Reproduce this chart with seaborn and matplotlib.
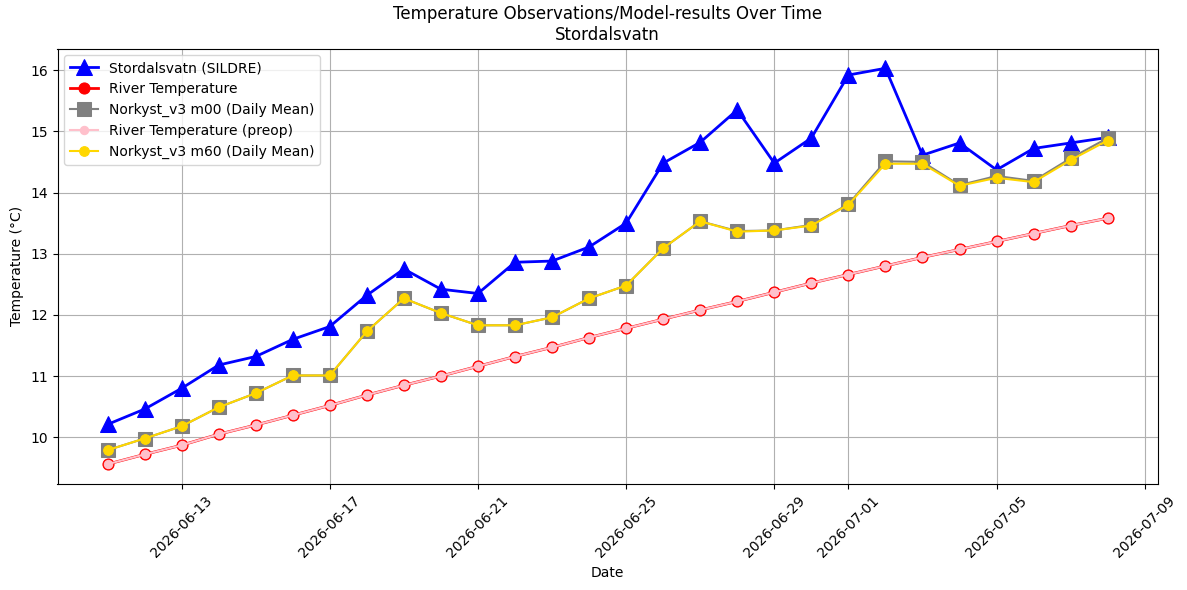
import pandas as pd
import numpy as np
import matplotlib.pyplot as plt
import seaborn as sns

# -----------------------------
# Data
# -----------------------------
dates = pd.date_range("2026-06-11", "2026-07-08", freq="D")

sildre = [10.21, 10.46, 10.80, 11.18, 11.32, 11.60, 11.81, 12.32, 12.75, 12.42,
          12.35, 12.86, 12.88, 13.11, 13.50, 14.48, 14.82, 15.35, 14.48, 14.89,
          15.92, 16.03, 14.61, 14.81, 14.37, 14.72, 14.81, 14.90]

river = [9.56, 9.72, 9.87, 10.05, 10.20, 10.36, 10.52, 10.69, 10.85, 11.00,
         11.16, 11.32, 11.47, 11.63, 11.78, 11.93, 12.08, 12.22, 12.37, 12.52,
         12.66, 12.80, 12.94, 13.07, 13.20, 13.33, 13.46, 13.58]

river_preop = list(river)

m00 = [9.79, 9.98, 10.18, 10.49, 10.72, 11.01, 11.01, 11.73, 12.27, 12.03,
       11.83, 11.83, 11.96, 12.27, 12.48, 13.09, 13.53, 13.37, 13.38, 13.47,
       13.81, 14.51, 14.50, 14.12, 14.27, 14.19, 14.56, 14.89]

m60 = [9.79, 9.98, 10.18, 10.49, 10.72, 11.01, 11.01, 11.73, 12.27, 12.03,
       11.83, 11.83, 11.96, 12.27, 12.48, 13.09, 13.53, 13.36, 13.38, 13.46,
       13.80, 14.47, 14.47, 14.11, 14.24, 14.17, 14.53, 14.85]

# -----------------------------
# Plot
# -----------------------------
fig, ax = plt.subplots(figsize=(11.87, 5.9), dpi=100)

sns.lineplot(x=dates, y=sildre, ax=ax, color="blue", marker="^", markersize=12,
             markeredgecolor="blue", linewidth=2, label="Stordalsvatn (SILDRE)")
sns.lineplot(x=dates, y=river, ax=ax, color="red", marker="o", markersize=8,
             markeredgecolor="red", linewidth=2, label="River Temperature")
sns.lineplot(x=dates, y=m00, ax=ax, color="grey", marker="s", markersize=10,
             markeredgecolor="grey", linewidth=1.5, label="Norkyst_v3 m00 (Daily Mean)")
sns.lineplot(x=dates, y=river_preop, ax=ax, color="pink", marker="o", markersize=6,
             markeredgecolor="pink", linewidth=1.5, label="River Temperature (preop)")
sns.lineplot(x=dates, y=m60, ax=ax, color="gold", marker="o", markersize=7,
             markeredgecolor="gold", linewidth=1.5, label="Norkyst_v3 m60 (Daily Mean)")

ax.set_title("Temperature Observations/Model-results Over Time\nStordalsvatn")
ax.set_xlabel("Date")
ax.set_ylabel("Temperature (°C)")
ax.grid(True)
ax.legend(loc="upper left")
plt.setp(ax.get_xticklabels(), rotation=45)

W, H = 1187, 590
fig.subplots_adjust(left=57.5 / W, right=1157.7 / W, top=1 - 48.5 / H, bottom=1 - 484 / H)
fig.savefig("out.png", dpi=100)
